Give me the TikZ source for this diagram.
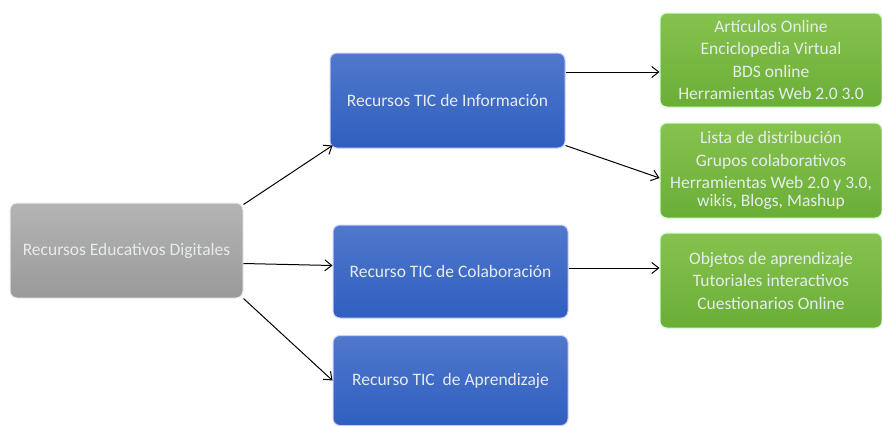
\documentclass[tikz,border=0pt]{standalone}
\usepackage{fontspec}
\setmainfont{Carlito}
\usetikzlibrary{arrows.meta}
\definecolor{txt}{HTML}{E6ECEE}
\definecolor{graytop}{HTML}{B4B4B4}
\definecolor{graybot}{HTML}{9A9A9A}
\definecolor{bluetop}{HTML}{5078CC}
\definecolor{bluebot}{HTML}{2F5FBF}
\definecolor{greentop}{HTML}{86C24E}
\definecolor{greenbot}{HTML}{6AAE36}
\tikzset{
  box/.style={rectangle, rounded corners=7pt, text=txt, align=center, font=\fontsize{17.5}{22.5}\selectfont, inner sep=2pt},
  graybox/.style={box, top color=graytop, bottom color=graybot, draw=white!85!gray, line width=1pt},
  bluebox/.style={box, top color=bluetop, bottom color=bluebot, draw=blue!20!white, line width=1pt},
  greenbox/.style={box, top color=greentop, bottom color=greenbot, draw=green!20!white, line width=1pt},
  conn/.style={-{Straight Barb[length=7pt,width=11pt]}, line width=1pt, black}
}
\begin{document}
\begin{tikzpicture}[x=1pt,y=-1pt]
\useasboundingbox (0,0) rectangle (882,426);
\node[graybox, minimum width=233pt, minimum height=95pt] (gray) at (126.5,250.5) {Recursos Educativos Digitales};
\node[bluebox, minimum width=235pt, minimum height=95pt] (info) at (447.5,100.5) {Recursos TIC de Información};
\node[bluebox, minimum width=235pt, minimum height=93pt] (colab) at (450.5,271.5) {Recurso TIC de Colaboración};
\node[bluebox, minimum width=235pt, minimum height=90pt] (aprend) at (450.5,380.5) {Recurso TIC\ \ de Aprendizaje};
\node[greenbox, minimum width=222pt, minimum height=94pt] (g1) at (771,60) {Artículos Online\\Enciclopedia Virtual\\BDS online\\Herramientas Web 2.0 3.0};
\node[greenbox, minimum width=222pt, minimum height=95pt] (g2) at (771,170.5) {Lista de distribución\\Grupos colaborativos\\Herramientas Web 2.0 y 3.0,\\[-5pt]wikis, Blogs, Mashup};
\node[greenbox, minimum width=222pt, minimum height=95pt] (g3) at (771,280.5) {Objetos de aprendizaje\\Tutoriales interactivos\\Cuestionarios Online};
\draw[conn] ([yshift=-2pt]gray.north east) -- ([shift={(3pt,3pt)}]info.south west);
\draw[conn] ([yshift=-13pt]gray.east) -- ([yshift=6pt]colab.west);
\draw[conn] (gray.south east) -- (aprend.west);
\draw[conn] ([yshift=28.5pt]info.east) -- ([yshift=-12pt]g1.west);
\draw[conn] ([yshift=3pt]info.south east) -- ([yshift=-7.5pt]g2.west);
\draw[conn] ([yshift=3.5pt]colab.east) -- ([yshift=12.5pt]g3.west);
\end{tikzpicture}
\end{document}
